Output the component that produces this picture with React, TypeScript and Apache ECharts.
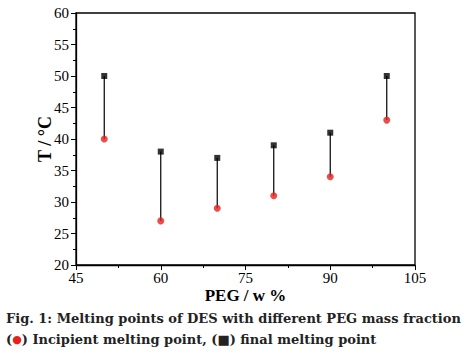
import React, { useEffect, useRef } from "react";
import * as echarts from "echarts";

const pegFractions = [50, 60, 70, 80, 90, 100];
const incipientPoints = [40, 27, 29, 31, 34, 43];
const finalPoints = [50, 38, 37, 39, 41, 50];
const captionLine1 = "Fig. 1: Melting points of DES with different PEG mass fraction";

const SERIF = "'Liberation Serif', 'DejaVu Serif', serif";
const CAPTION_FONT = "'DejaVu Serif', serif";

export default function App() {
  const ref = useRef<HTMLDivElement>(null);
  useEffect(() => {
    if (!ref.current) return;
    const chart = echarts.init(ref.current, undefined, { renderer: "svg" });
    const rangeData = pegFractions.map((x, i) => [x, incipientPoints[i], finalPoints[i]]);
    const axisCommon = {
      axisLine: { show: true, onZero: false, lineStyle: { color: "#000", width: 1.3 } },
      axisTick: { show: true, inside: false, length: 5, lineStyle: { color: "#000", width: 1 } },
      minorTick: { show: true, splitNumber: 2, length: 3, lineStyle: { color: "#000", width: 1 } },
      splitLine: { show: false },
      axisLabel: { color: "#000", fontFamily: SERIF, fontSize: 15 },
    };
    chart.setOption({
      animation: false,
      backgroundColor: "#fff",
      grid: { left: 76, top: 13, right: 57, bottom: 91, show: true, borderColor: "#000", borderWidth: 1.3, backgroundColor: "transparent" },
      xAxis: {
        type: "value",
        min: 45,
        max: 105,
        interval: 15,
        ...axisCommon,
        axisLabel: { ...axisCommon.axisLabel, margin: 5, lineHeight: 15 },
        name: "PEG / w %",
        nameLocation: "middle",
        nameGap: 22,
        nameMoveOverlap: false,
        nameTextStyle: { color: "#000", fontFamily: SERIF, fontSize: 17, fontWeight: "bold", lineHeight: 17 },
      },
      yAxis: {
        type: "value",
        min: 20,
        max: 60,
        interval: 5,
        ...axisCommon,
        axisLabel: { ...axisCommon.axisLabel, margin: 7 },
        name: "T / °C",
        nameLocation: "middle",
        nameGap: 22,
        nameMoveOverlap: false,
        nameTextStyle: { color: "#000", fontFamily: SERIF, fontSize: 18, fontWeight: "bold" },
      },
      series: [
        {
          type: "custom",
          data: rangeData,
          encode: { x: 0, y: [1, 2] },
          renderItem: (params: any, api: any) => {
            const p1 = api.coord([api.value(0), api.value(1)]);
            const p2 = api.coord([api.value(0), api.value(2)]);
            return {
              type: "line",
              shape: { x1: p1[0], y1: p1[1], x2: p2[0], y2: p2[1] },
              style: { stroke: "#000", lineWidth: 1.2 },
            };
          },
          z: 1,
        },
        {
          type: "scatter",
          data: pegFractions.map((x, i) => [x, finalPoints[i]]),
          symbol: "rect",
          symbolSize: 6,
          itemStyle: { color: "#000" },
          z: 3,
        },
        {
          type: "scatter",
          data: pegFractions.map((x, i) => [x, incipientPoints[i]]),
          symbol: "circle",
          symbolSize: 7,
          itemStyle: { color: "#e8211d" },
          z: 3,
        },
      ],
      graphic: [
        {
          type: "text",
          left: 6,
          top: 312,
          style: {
            text: captionLine1,
            font: `bold 13px ${CAPTION_FONT}`,
            fill: "#222",
          },
        },
        {
          type: "text",
          left: 6,
          top: 333,
          style: {
            text: "({r|●}) Incipient melting point, (■) final melting point",
            font: `bold 13px ${CAPTION_FONT}`,
            fill: "#222",
            rich: {
              r: { fill: "#e8211d", font: `bold 11px ${CAPTION_FONT}` },
            },
          },
        },
      ],
    });
    return () => chart.dispose();
  }, []);
  return (
    <div
      ref={ref}
      style={{ position: "absolute", left: 0, top: 0, width: 472, height: 356 }}
    />
  );
}
